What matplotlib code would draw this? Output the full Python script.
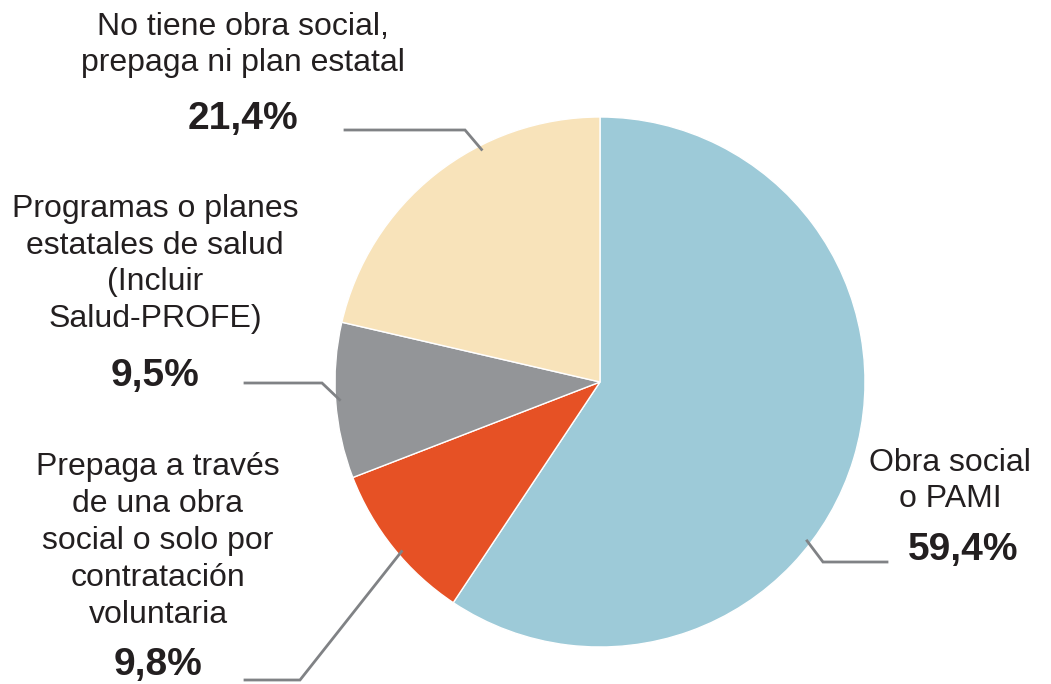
import numpy as np
import matplotlib.pyplot as plt

# data (clockwise from the top)
labels = ["Obra social\no PAMI",
          "Prepaga a través\nde una obra\nsocial o solo por\ncontratación\nvoluntaria",
          "Programas o planes\nestatales de salud\n(Incluir\nSalud-PROFE)",
          "No tiene obra social,\nprepaga ni plan estatal"]
values = [59.4, 9.8, 9.5, 21.4]
pct_labels = ["59,4%", "9,8%", "9,5%", "21,4%"]
colors = ["#9dcad8", "#e65125", "#939598", "#f8e3ba"]

plt.rcParams['font.family'] = ['Liberation Sans', 'DejaVu Sans']

W, H = 1051, 684
fig = plt.figure(figsize=(W / 100, H / 100), dpi=100)
ax = fig.add_axes([0, 0, 1, 1])

cx, cy, R = 600, H - 382, 265
ax.pie(values, colors=colors, startangle=90, counterclock=False,
       center=(cx, cy), radius=R, frame=True,
       wedgeprops=dict(edgecolor='white', linewidth=1))
ax.set_xlim(0, W)
ax.set_ylim(0, H)
ax.set_aspect('equal')
ax.axis('off')

# label layout: text centre, pct centre, leader (angle on pie, elbow, tail)
layout = [
    dict(txt=(950, 481), pct=(963, 550), ang=-37.5, elbow=(823, 562), tail=(887, 562)),
    dict(txt=(158, 541), pct=(158, 665), ang=220.5, elbow=(300, 680), tail=(245, 680)),
    dict(txt=(155, 264), pct=(155, 376), ang=183.9, elbow=(322, 383), tail=(245, 383)),
    dict(txt=(243, 45), pct=(243, 119), ang=117.0, elbow=(465, 130), tail=(345, 130)),
]

for lab, pct, lay in zip(labels, pct_labels, layout):
    ax.text(lay['txt'][0], H - lay['txt'][1], lab, ha='center', va='center',
            fontsize=23, color='#231f20', linespacing=1.3)
    ax.text(lay['pct'][0], H - lay['pct'][1], pct, ha='center', va='center',
            fontsize=28, fontweight='bold', color='#231f20')
    a = np.deg2rad(lay['ang'])
    px, py = cx + (R - 4) * np.cos(a), cy + (R - 4) * np.sin(a)
    ax.plot([px, lay['elbow'][0], lay['tail'][0]],
            [py, H - lay['elbow'][1], H - lay['tail'][1]],
            color='#808285', lw=2, solid_joinstyle='miter', zorder=5)

fig.savefig("out.png", dpi=100)
